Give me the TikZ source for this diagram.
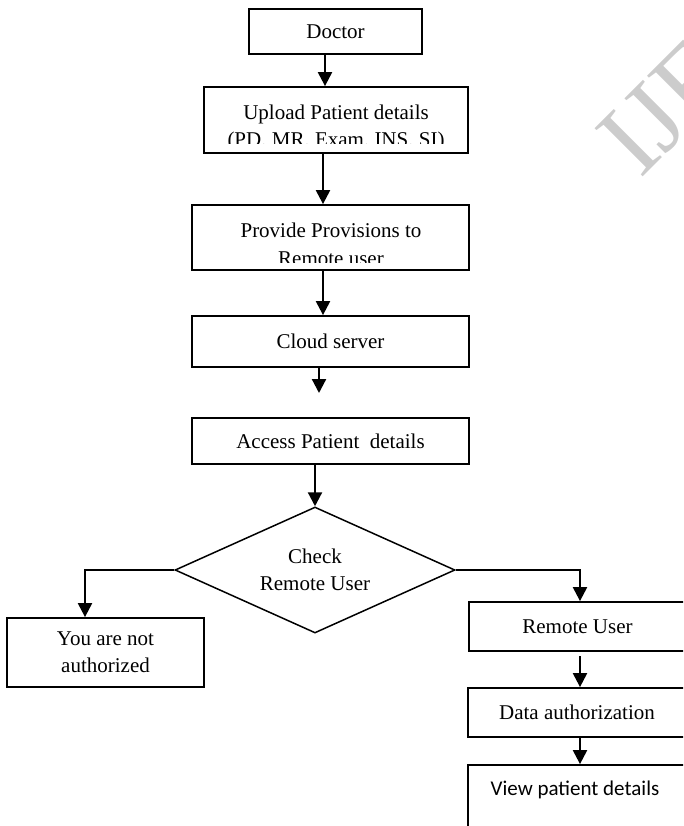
\documentclass[tikz,border=0pt]{standalone}
\usepackage{fontspec}
\setmainfont{Liberation Serif}
\newfontfamily\calibrifont{Carlito}
\usetikzlibrary{shapes.geometric,arrows.meta}

\begin{document}
\begin{tikzpicture}[x=1pt,y=-1pt,
    box/.style={draw,line width=1.8pt,inner sep=0,align=center,font=\boxfontsize},
    linetext/.style={anchor=base,inner sep=0,font=\boxfontsize},
    flow/.style={line width=2.2pt,-{Triangle[width=14pt,length=14pt]}}]
    \providecommand{\boxfontsize}{\fontsize{21pt}{27pt}\selectfont}
    \providecommand{\markfontsize}{\fontsize{104pt}{104pt}\selectfont}
    \useasboundingbox (0,0) rectangle (683,826);
    \clip (0,0) rectangle (683,826);
    % watermark
    \node[rotate=45,anchor=base west,inner sep=0,text=black!20,font=\markfontsize] (mark) at (640,180) {IJERT};
    \node[box,minimum width=173,minimum height=45] (doctor) at (335.5,31.5) {Doctor};
    \node[box,minimum width=264,minimum height=66] (upload) at (336,120) {};
    \begin{scope}
        \clip (upload.north west) rectangle ([yshift=10pt]upload.south east);
        \node[linetext] (upload1) at (336,120) {Upload Patient details};
        \node[linetext] (upload2) at (336,147) {(PD, MR, Exam, INS, SI)};
    \end{scope}
    \node[box,minimum width=277,minimum height=65] (provide) at (330.5,237.5) {};
    \begin{scope}
        \clip (provide.north west) rectangle ([yshift=8pt]provide.south east);
        \node[linetext] (provide1) at (331,237) {Provide Provisions to};
        \node[linetext] (provide2) at (331,265) {Remote user};
    \end{scope}
    \node[box,minimum width=277,minimum height=51] (cloud) at (330.5,341.5) {Cloud server};
    \node[box,minimum width=277,minimum height=46] (access) at (330.5,441) {Access Patient\ \ details};
    \node[draw,diamond,line width=1.5pt,inner sep=0,aspect=2.22,minimum width=280,minimum height=126,align=center,font=\boxfontsize] (check) at (315,570) {Check\\Remote User};
    \node[box,minimum width=197,minimum height=69] (noauth) at (105.5,652.5) {You are not\\authorized};
    \node[box,minimum width=217,minimum height=49] (remote) at (577.5,626.5) {Remote User};
    \node[box,minimum width=218,minimum height=49] (dataauth) at (577,712.5) {Data authorization};
    \node[box,minimum width=218,minimum height=75] (view) at (577,802.5) {};
    \node[inner sep=0,font=\fontsize{21pt}{27pt}\calibrifont] (viewtext) at (575,790) {View patient details};
    \coordinate (cloudend) at (319,393);
    \coordinate (remotegap) at (580,656);
    % arrows
    \draw[flow] (325,0 |- doctor.south) -- (325,0 |- upload.north);
    \draw[flow] (323,0 |- upload.south) -- (323,0 |- provide.north);
    \draw[flow] (323,0 |- provide.south) -- (323,0 |- cloud.north);
    \draw[flow] (319,0 |- cloud.south) -- (cloudend);
    \draw[flow] (315,0 |- access.south) -- (check.north);
    \draw[flow] (check.west) -| ([xshift=-20.5pt]noauth.north);
    \draw[flow] (check.east) -| ([xshift=2.5pt]remote.north);
    \draw[flow] (remotegap) -- (580,0 |- dataauth.north);
    \draw[flow] (580,0 |- dataauth.south) -- (580,0 |- view.north);
\end{tikzpicture}
\end{document}
